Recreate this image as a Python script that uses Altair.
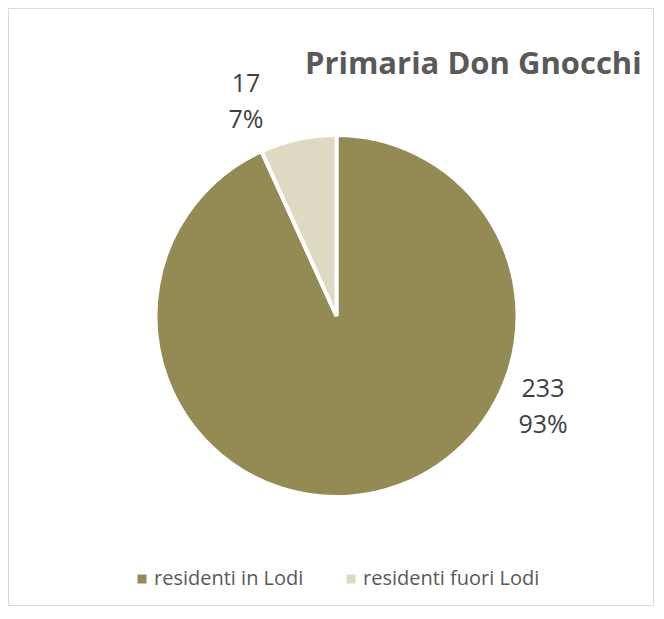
import altair as alt
import pandas as pd

categories = ["residenti in Lodi", "residenti fuori Lodi"]
values = [233, 17]
colors = ["#948A54", "#DDD9C3"]
title_text = "Primaria Don Gnocchi"

df = pd.DataFrame({"categoria": categories, "valore": values, "ordine": list(range(len(categories)))})
df_title = pd.DataFrame({"t": [title_text]})

W, H = 646, 598
CX, CY = 328.5, 308

base = alt.Chart(df).transform_joinaggregate(totale="sum(valore)").transform_calculate(
    etichetta="datum.valore + '\\n' + round(datum.valore / datum.totale * 100) + '%'"
)

pie = base.mark_arc(outerRadius=181, stroke="white", strokeWidth=4).encode(
    theta=alt.Theta("valore:Q", stack=True),
    color=alt.Color(
        "categoria:N",
        scale=alt.Scale(domain=categories, range=colors),
        sort=categories,
        legend=alt.Legend(
            title=None,
            orient="none",
            legendX=124,
            legendY=561,
            direction="horizontal",
            symbolType="square",
            symbolSize=81,
            symbolStrokeWidth=0,
            labelFont="Open Sans",
            labelFontSize=20,
            labelColor="#595959",
            labelOffset=2,
            labelLimit=0,
            columnPadding=37,
            padding=0,
        ),
    ),
    order=alt.Order("ordine:Q"),
    x=alt.value(CX),
    y=alt.value(CY),
)

text_style = dict(font="Open Sans", fontSize=25, color="#404040", lineBreak="\n",
                  lineHeight=36, align="center", baseline="alphabetic")

lab_out = base.transform_filter(alt.datum.categoria == categories[1]).mark_text(**text_style).encode(
    text="etichetta:N", x=alt.value(238), y=alt.value(83.7)
)
lab_in = base.transform_filter(alt.datum.categoria == categories[0]).mark_text(**text_style).encode(
    text="etichetta:N", x=alt.value(535), y=alt.value(388.7)
)

title = alt.Chart(df_title).mark_text(
    font="Open Sans", fontSize=31, fontWeight="bold", color="#595959",
    align="right", baseline="alphabetic"
).encode(text="t:N", x=alt.value(633.7), y=alt.value(66.3))

chart = alt.layer(pie, lab_out, lab_in, title).properties(
    width=W, height=H, padding=0, autosize="none", background="white"
).configure_view(stroke="#D9D9D9", strokeWidth=2)

chart.save("out.html", embed_options={"renderer": "svg", "actions": False})
